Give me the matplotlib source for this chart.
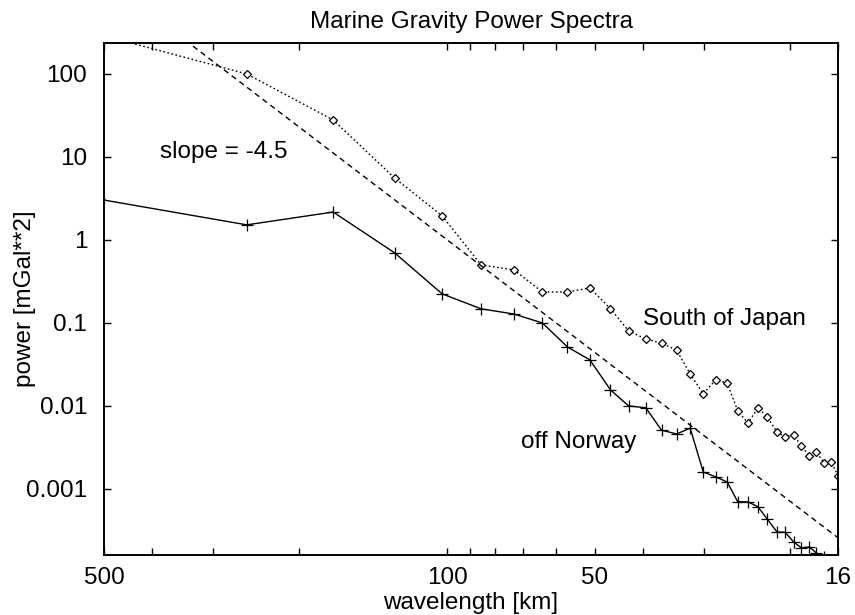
import matplotlib
matplotlib.use('Agg')
import matplotlib.pyplot as plt
from matplotlib.ticker import FixedLocator, NullLocator, NullFormatter

plt.rcParams['font.family'] = ['Liberation Sans', 'DejaVu Sans']
FS = 17.5

# wavelengths of the spectral estimates (km)
wavelength = [512, 256, 170.7, 128, 102.4, 85.3, 73.1, 64, 56.9, 51.2, 46.5,
              42.7, 39.4, 36.6, 34.1, 32, 30.1, 28.4, 26.9, 25.6, 24.4, 23.3,
              22.3, 21.3, 20.5, 19.7, 19.0, 18.3, 17.7, 17.1, 16.5, 16]

# South of Japan power (mGal**2)
japan_power = [300, 100, 27.9, 5.58, 1.95, 0.50, 0.435, 0.236, 0.236, 0.264,
               0.148, 0.080, 0.064, 0.057, 0.047, 0.0243, 0.0140, 0.0206,
               0.0189, 0.0087, 0.0062, 0.0095, 0.0074, 0.00486, 0.00424,
               0.00448, 0.0033, 0.0025, 0.0028, 0.00206, 0.0021, 0.00144]

# off Norway power (mGal**2), last points run below the frame
norway_wl = wavelength[:30]
norway_power = [3.1, 1.52, 2.17, 0.70, 0.224, 0.148, 0.128, 0.100, 0.0514,
                0.0358, 0.0156, 0.0100, 0.0095, 0.0051, 0.0046, 0.0054,
                0.0016, 0.0014, 0.00121, 0.00070, 0.00070, 0.00061, 0.000435,
                0.000303, 0.000300, 0.00023, 0.000195, 0.000200, 0.000169,
                0.000150]

# reference line with slope -4.5
slope_wl = [512, 16]
slope_power = [1580, 2.58e-4]

x_major = [500, 100, 50, 16]
x_minor = [400, 300, 200, 90, 80, 70, 60, 40, 30, 20]
y_ticks = [100, 10, 1, 0.1, 0.01, 0.001]
y_labels = ['100', '10', '1', '0.1', '0.01', '0.001']

fig = plt.figure(figsize=(8.55, 6.15), dpi=100)
ax = fig.add_axes([104 / 855, 1 - 555 / 615, 734 / 855, 512 / 615])

ax.plot(wavelength, japan_power, color='black', lw=1.0, linestyle=(0, (1.2, 1.8)),
        marker='D', markersize=4.5, markerfacecolor='white', markeredgewidth=0.9)
ax.plot(norway_wl, norway_power, color='black', lw=1.0, marker='+',
        markersize=8, markeredgewidth=0.9)
ax.plot(slope_wl, slope_power, color='black', lw=1.0, linestyle=(0, (4, 3)))

ax.set_xscale('log')
ax.set_yscale('log')
ax.set_xlim(500, 16)
ax.set_ylim(1.6e-4, 236)

ax.xaxis.set_major_locator(FixedLocator(x_major))
ax.xaxis.set_minor_locator(FixedLocator(x_minor))
ax.set_xticklabels([str(v) for v in x_major])
ax.xaxis.set_minor_formatter(NullFormatter())
ax.yaxis.set_major_locator(FixedLocator(y_ticks))
ax.yaxis.set_minor_locator(NullLocator())
ax.set_yticklabels(y_labels)

ax.tick_params(which='both', direction='in', top=True, right=True,
               length=5, width=1.0, labelsize=FS)
ax.tick_params(axis='x', which='both', pad=9)
ax.tick_params(axis='y', which='both', pad=12)
for s in ax.spines.values():
    s.set_linewidth(1.4)

ax.text(384, 9.7, 'slope = -4.5', fontsize=FS, ha='left', va='baseline')
ax.text(39.9, 0.0946, 'South of Japan', fontsize=FS, ha='left', va='baseline')
ax.text(70.8, 0.00312, 'off Norway', fontsize=FS, ha='left', va='baseline')

ax.set_title('Marine Gravity Power Spectra', fontsize=FS, pad=11)
ax.set_xlabel('wavelength [km]', fontsize=FS, labelpad=2)
ax.set_ylabel('power [mGal**2]', fontsize=FS)
ax.yaxis.set_label_coords(-0.092, 0.5)

fig.savefig('out.png', dpi=100)
